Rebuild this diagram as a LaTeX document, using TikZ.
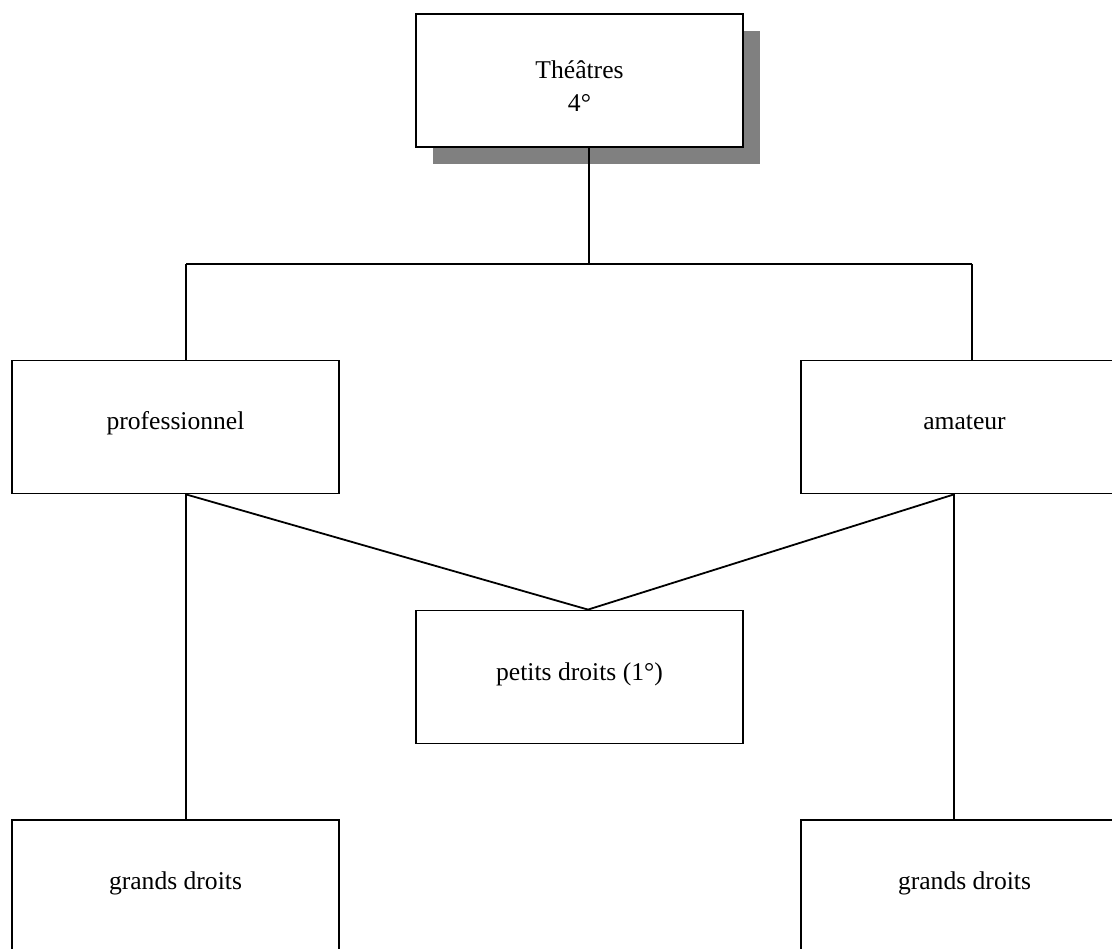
\documentclass[tikz,border=0pt]{standalone}
\usepackage{fontspec}
\setmainfont{Liberation Serif}
\usetikzlibrary{shadows}
\tikzset{
  box/.style={draw, fill=white, line width=1.8pt, minimum width=327pt, minimum height=133pt,
    inner sep=0pt, font=\fontsize{25.6}{33}\selectfont, text height=21pt, text depth=15pt},
  link/.style={line width=1.8pt}
}
\begin{document}
\begin{tikzpicture}[x=1pt,y=-1pt]
        \useasboundingbox (0,0) rectangle (1112,949);
        \clip (0,0) rectangle (1112,949);
        % boxes
        \node [box, align=center, text height=83pt, text depth=20pt, drop shadow={shadow xshift=17pt, shadow yshift=-17pt, fill=black!50, opacity=1}] (theatres) at (579.5,80.5) {Théâtres\\4°};
        \node [box] (pro) at (175.5,427) {professionnel};
        \node [box] (ama) at (964.5,427) {amateur};
        \node [box] (petits) at (579.5,677) {petits droits (1°)};
        \node [box] (grandsg) at (175.5,886.5) {grands droits};
        \node [box] (grandsd) at (964.5,886.5) {grands droits};
        % junction
        \coordinate (top) at (589,264);\coordinate (left) at (186,264);\coordinate (right) at (972,264);
        % lines
        \draw [link] ([xshift=9.5]theatres.south) -- (top);
        \draw [link] (left) -- (right);
        \draw [link] (left) -- ([xshift=10.5]pro.north);\draw [link] (right) -- ([xshift=7.5]ama.north);
        \draw [link] ([xshift=10.5]pro.south) -- ([xshift=8.5]petits.north);\draw [link] ([xshift=-10.5]ama.south) -- ([xshift=8.5]petits.north);
        \draw [link] ([xshift=10.5]pro.south) -- ([xshift=10.5]grandsg.north);\draw [link] ([xshift=-10.5]ama.south) -- ([xshift=-10.5]grandsd.north);
\end{tikzpicture}
\end{document}
